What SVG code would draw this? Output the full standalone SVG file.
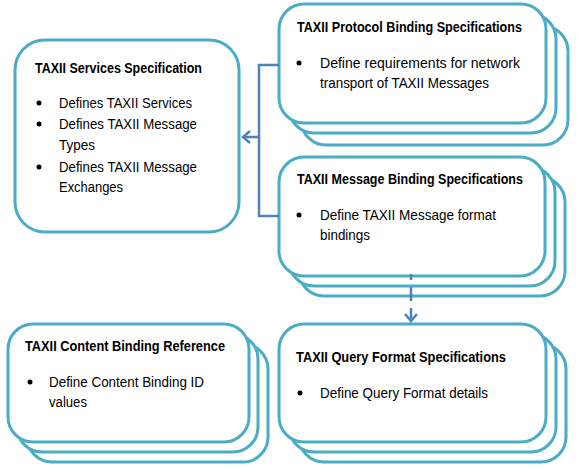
<svg xmlns="http://www.w3.org/2000/svg" width="584" height="470" viewBox="0 0 584 470">
<style>
.box{fill:#fff;stroke:#4BACC6;stroke-width:3}
.t{font-family:"Liberation Sans",Arial,sans-serif;font-size:14px;fill:#000}
.b{font-weight:bold}
.dot{fill:#000}
.con{fill:none;stroke:#4F81BD;stroke-width:2.5}
</style>
<rect width="584" height="470" fill="#fff"/>
<g id="services">
<rect class="box" x="15" y="40" width="224" height="192" rx="30"/>
<text class="t b" x="35" y="73" textLength="167" lengthAdjust="spacingAndGlyphs">TAXII Services Specification</text>
<circle class="dot" cx="39" cy="103" r="2.5"/>
<text class="t" x="59" y="108" textLength="133" lengthAdjust="spacingAndGlyphs">Defines TAXII Services</text>
<circle class="dot" cx="39" cy="124" r="2.5"/>
<text class="t" x="59" y="129" textLength="138" lengthAdjust="spacingAndGlyphs">Defines TAXII Message</text>
<text class="t" x="59" y="150" textLength="36" lengthAdjust="spacingAndGlyphs">Types</text>
<circle class="dot" cx="39" cy="167" r="2.5"/>
<text class="t" x="59" y="172" textLength="138" lengthAdjust="spacingAndGlyphs">Defines TAXII Message</text>
<text class="t" x="59" y="192" textLength="64" lengthAdjust="spacingAndGlyphs">Exchanges</text>
</g>
<g id="protocol">
<rect class="box" x="301" y="26" width="267" height="119" rx="25"/>
<rect class="box" x="289" y="14" width="267" height="119" rx="25"/>
<rect class="box" x="279" y="4" width="267" height="119" rx="25"/>
<text class="t b" x="297" y="32" textLength="225" lengthAdjust="spacingAndGlyphs">TAXII Protocol Binding Specifications</text>
<circle class="dot" cx="299" cy="63" r="2.5"/>
<text class="t" x="320" y="68" textLength="200" lengthAdjust="spacingAndGlyphs">Define requirements for network</text>
<text class="t" x="320" y="88" textLength="169" lengthAdjust="spacingAndGlyphs">transport of TAXII Messages</text>
</g>
<g id="message">
<rect class="box" x="299" y="177" width="266" height="119" rx="25"/>
<rect class="box" x="289" y="167" width="266" height="119" rx="25"/>
<rect class="box" x="279" y="157" width="266" height="119" rx="25"/>
<text class="t b" x="297" y="184" textLength="226" lengthAdjust="spacingAndGlyphs">TAXII Message Binding Specifications</text>
<circle class="dot" cx="299" cy="215" r="2.5"/>
<text class="t" x="320" y="220" textLength="176" lengthAdjust="spacingAndGlyphs">Define TAXII Message format</text>
<text class="t" x="320" y="240" textLength="50" lengthAdjust="spacingAndGlyphs">bindings</text>
</g>
<g id="content">
<rect class="box" x="27" y="344" width="241" height="118" rx="25"/>
<rect class="box" x="17" y="334" width="241" height="118" rx="25"/>
<rect class="box" x="8" y="324" width="241" height="118" rx="25"/>
<text class="t b" x="25" y="351" textLength="200" lengthAdjust="spacingAndGlyphs">TAXII Content Binding Reference</text>
<circle class="dot" cx="30" cy="382" r="2.5"/>
<text class="t" x="49" y="387" textLength="155" lengthAdjust="spacingAndGlyphs">Define Content Binding ID</text>
<text class="t" x="49" y="407" textLength="38" lengthAdjust="spacingAndGlyphs">values</text>
</g>
<g id="query">
<rect class="box" x="299" y="344" width="267" height="118" rx="25"/>
<rect class="box" x="289" y="334" width="267" height="118" rx="25"/>
<rect class="box" x="279" y="324" width="267" height="118" rx="25"/>
<text class="t b" x="296" y="362" textLength="210" lengthAdjust="spacingAndGlyphs">TAXII Query Format Specifications</text>
<circle class="dot" cx="300" cy="393" r="2.5"/>
<text class="t" x="320" y="398" textLength="168" lengthAdjust="spacingAndGlyphs">Define Query Format details</text>
</g>
<g id="connectors">
<path class="con" d="M279,65 H259 V216 H279"/>
<path class="con" d="M259,137 H243"/>
<path class="con" d="M250,131 L243,137 L250,143"/>
<path class="con" d="M411,274 V321" stroke-dasharray="6 7 14 7 20"/>
<path class="con" d="M405,314 L411,321 L417,314"/>
</g>
</svg>
